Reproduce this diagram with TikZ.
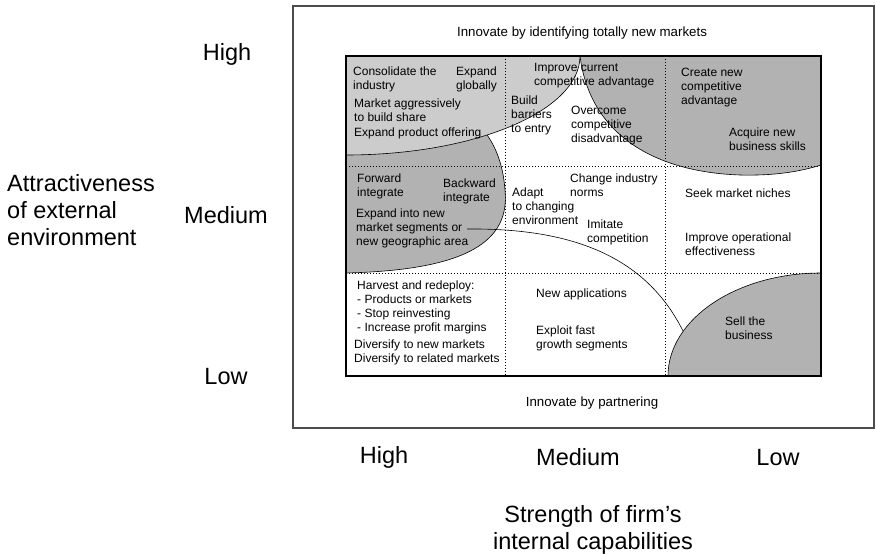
\documentclass[tikz,border=0pt]{standalone}
\usepackage{fontspec}
\setmainfont{Liberation Sans}
\usetikzlibrary{positioning}

\begin{document}
\begin{tikzpicture}[x=1pt, y=-1pt,
    cell/.style={font=\fontsize{12}{14}\selectfont, align=left,
                 anchor=west, inner sep=0pt},
    axis/.style={font=\fontsize{23.5}{27}\selectfont, inner sep=0pt},
    note/.style={font=\fontsize{13.3}{15}\selectfont, inner sep=0pt},
    lite/.style={fill=black!20, draw=black, line width=0.6pt},
    dark/.style={fill=black!30, draw=black, line width=0.6pt},
    divider/.style={line width=0.9pt, dash pattern=on 0.9pt off 2.1pt}]

  \useasboundingbox (0,0) rectangle (876,554);

  %% Outer frame
  \draw[black!70, line width=1.5pt] (293,6) rectangle (874,428);

  %% Shaded zones inside the matrix
  \begin{scope}
    \clip (346,56) rectangle (821,376);
    %% Medium-left zone
    \path[dark] (346,273) .. controls (470,270) and (510,240) .. (505,190)
      .. controls (502,150) and (485,125) .. (460,110) -- (346,110) -- cycle;
    %% High-left zone
    \path[lite] (346,56) ellipse [x radius=234pt, y radius=99pt];
    %% High-right zone
    \path[dark] (580,56) .. controls (590,135) and (655,172) .. (740,175)
      .. controls (780,176) and (805,170) .. (821,165) -- (821,40) -- (580,40) -- cycle;
    %% Low-right zone
    \path[dark] (821,376) ellipse [x radius=153pt, y radius=103pt];
    %% Open boundary line
    \draw[line width=0.6pt] (467,229) .. controls (570,228) and (645,255) .. (683,331);
  \end{scope}

  %% Cell dividers
  \draw[divider] (505,56) -- (505,376);
  \draw[divider] (665,56) -- (665,376);
  \draw[divider] (346,166) -- (821,166);
  \draw[divider] (346,273) -- (821,273);
  \draw[line width=1.3pt] (346,56) rectangle (821,376);

  %% Notes above and below the matrix
  \node[note] (newmkt) at (582,33) {Innovate by identifying totally new markets};
  \node[note] (partner) at (592,403) {Innovate by partnering};

  %% High attractiveness row
  \node[cell] (consol) at (353,79) {Consolidate the\\industry};
  \node[cell, align=right, anchor=east] (global) at (497,79) {Expand\\globally};
  \node[cell] (aggr) at (354,110.5) {Market aggressively\\to build share};
  \node[cell] (offer) at (354,133) {Expand product offering};
  \node[cell] (improve) at (534,75.5) {Improve current\\competitive advantage};
  \node[cell] (barrier) at (511,115.5) {Build\\barriers\\to entry};
  \node[cell] (overcome) at (571,126) {Overcome\\competitive\\disadvantage};
  \node[cell] (create) at (681,88) {Create new\\competitive\\advantage};
  \node[cell] (acquire) at (729,139.5) {Acquire new\\business skills};

  %% Medium attractiveness row
  \node[cell] (fwd) at (357,186) {Forward\\integrate};
  \node[cell] (bwd) at (443,191) {Backward\\integrate};
  \node[cell] (segm) at (356,228) {Expand into new\\market segments or\\new geographic area};
  \node[cell] (adapt) at (512,206) {Adapt\\to changing\\environment};
  \node[cell] (norms) at (570,185) {Change industry\\norms};
  \node[cell] (imitate) at (587,232.5) {Imitate\\competition};
  \node[cell] (niche) at (685,193) {Seek market niches};
  \node[cell] (operat) at (685,244) {Improve operational\\effectiveness};

  %% Low attractiveness row
  \node[cell] (harvest) at (357,307.5)
    {Harvest and redeploy:\\- Products or markets\\- Stop reinvesting\\- Increase profit margins};
  \node[cell] (divers) at (354,352.5) {Diversify to new markets\\Diversify to related markets};
  \node[cell] (newapp) at (536,294) {New applications};
  \node[cell] (growth) at (536,338) {Exploit fast\\growth segments};
  \node[cell] (sell) at (725,328) {Sell the\\business};

  %% Vertical axis
  \node[axis] (yhigh) at (227,54) {High};
  \node[axis] (ymed) at (226,215) {Medium};
  \node[axis] (ylow) at (226,377) {Low};
  \node[axis, align=left, anchor=west] (ytitle) at (7,210)
    {Attractiveness\\of external\\environment};

  %% Horizontal axis
  \node[axis] (xhigh) at (384,457) {High};
  \node[axis] (xmed) at (578,457) {Medium};
  \node[axis] (xlow) at (778,458) {Low};
  \node[axis, align=center] (xtitle) at (593,530)
    {Strength of firm's\\internal capabilities};
\end{tikzpicture}
\end{document}
